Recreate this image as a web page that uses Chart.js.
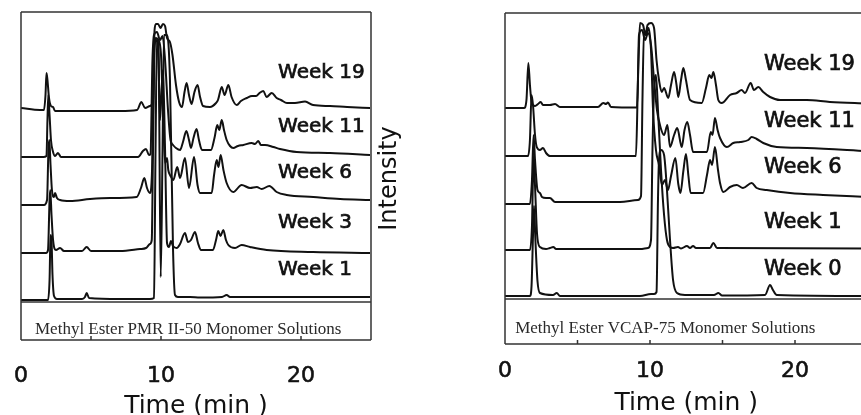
<!DOCTYPE html>
<html>
<head>
<meta charset="utf-8">
<script src="https://cdn.jsdelivr.net/npm/chart.js@4.4.1/dist/chart.umd.min.js"></script>
<style>
  html, body { margin: 0; padding: 0; background: #fff; overflow: hidden; width: 861px; height: 415px; }
  #pmr { position: absolute; left: 0; top: 0; }
  #vcap { position: absolute; left: 370px; top: 0; }
</style>
</head>
<body>
<canvas id="pmr" width="440" height="425"></canvas>
<canvas id="vcap" width="510" height="425"></canvas>
<script>
// tick values (min)
const timeTicks = [0, 10, 20];
const minorTicks = [5, 10, 15, 20];

// trace names, top to bottom
const pmrWeeks = ['Week 19', 'Week 11', 'Week 6', 'Week 3', 'Week 1'];
const vcapWeeks = ['Week 19', 'Week 11', 'Week 6', 'Week 1', 'Week 0'];

const pmrCaption = 'Methyl Ester PMR II-50 Monomer Solutions';
const vcapCaption = 'Methyl Ester VCAP-75 Monomer Solutions';

// PMR II-50 chromatograms: [time (min), stacked intensity]
const pmrWeek19 = [[0,192],[1.36,190],[1.64,190],[1.75,205],[1.82,227],[1.89,220],[2.0,202],[2.14,194],[2.29,193],[2.43,189],[4.2,189],[7.07,189],[8.29,190],[8.6,198],[8.86,192],[9.21,194],[9.43,200],[9.54,270],[9.64,276],[9.79,276],[9.96,272],[10.14,276],[10.29,274],[10.43,262],[10.64,258],[10.82,245],[11.07,215],[11.29,198],[11.5,193],[11.68,208],[11.83,217],[12.0,205],[12.18,196],[12.39,208],[12.61,215],[12.79,203],[13.0,194],[13.5,193],[13.93,197],[14.07,200],[14.34,213],[14.54,205],[14.81,215],[15.04,203],[15.41,195],[15.71,199],[16.12,202],[16.5,204],[16.79,204],[17.04,207],[17.31,209],[17.54,203],[17.91,207],[18.26,202],[18.57,200],[19.0,197],[19.57,197],[20.29,198.5],[20.86,195],[22.07,194],[23.29,193],[24.93,192]];
const pmrWeek11 = [[0,143],[1.6,143],[1.82,144],[1.89,180],[1.95,205],[2.04,185],[2.14,160],[2.29,148],[2.43,144],[2.64,147],[2.86,143],[5.64,143],[8.36,143],[8.71,149],[8.93,151],[9.14,145],[9.25,146],[9.39,240],[9.5,265],[9.71,268],[9.93,260],[10.11,264],[10.29,240],[10.5,190],[10.68,160],[10.86,155],[11.07,152],[11.36,150],[11.57,158],[11.81,169],[12.0,160],[12.14,152],[12.32,162],[12.54,171],[12.71,160],[12.93,150],[13.57,150],[13.82,162],[14.02,175],[14.16,170],[14.34,180],[14.5,170],[14.69,160],[14.93,154],[15.16,152],[15.5,154],[15.88,155],[16.48,157],[16.71,156],[16.95,159],[17.14,155],[17.43,155],[18.02,153],[18.5,151],[19.69,148],[22.07,147],[24.93,145]];
const pmrWeek6 = [[0,95],[1.64,95],[1.86,100],[1.96,150],[2.02,160],[2.11,135],[2.21,110],[2.36,103],[2.43,107],[2.57,102],[2.79,100],[3.5,99],[4.93,101],[6.36,102],[8.26,103],[8.57,112],[8.81,122],[9.0,112],[9.21,107],[9.36,130],[9.5,240],[9.64,262],[9.82,260],[10.0,245],[10.14,190],[10.29,137],[10.43,142],[10.52,130],[10.68,124],[10.88,120],[11.16,133],[11.36,122],[11.71,142],[12.0,112],[12.36,143],[12.61,115],[12.79,107],[13.62,107],[13.79,125],[13.98,140],[14.11,133],[14.26,145],[14.46,130],[14.69,117],[15.16,108],[15.76,115],[16.36,112],[16.84,113],[17.19,111],[17.74,114],[18.26,108],[18.98,105],[20.88,103],[22.79,101],[24.93,100]];
const pmrWeek3 = [[0,47],[1.79,47],[1.93,50],[2.04,100],[2.09,110],[2.18,85],[2.29,60],[2.5,50],[2.79,52],[3.07,49],[4.36,49],[4.69,53],[5.0,49],[7.07,49],[8.5,51],[8.93,52],[9.21,56],[9.34,60],[9.43,150],[9.54,255],[9.68,260],[9.82,240],[9.93,180],[10.04,210],[10.14,230],[10.29,150],[10.43,57],[10.57,53],[10.71,59],[10.86,54],[11.12,52],[11.36,56],[11.71,67],[11.93,58],[12.14,60],[12.43,68],[12.64,57],[12.86,50],[13.71,50],[13.93,60],[14.09,69],[14.25,64],[14.45,70],[14.64,60],[14.81,55],[15.29,52],[15.76,55],[16.36,53],[17.55,50],[20.86,48],[24.93,47]];
const pmrWeek1 = [[0,0],[1.93,0],[2.04,20],[2.11,65],[2.18,60],[2.25,25],[2.36,4],[2.57,1],[4.36,1],[4.57,3],[4.69,7],[4.86,2],[7.07,1],[9.21,1],[9.5,2],[9.61,150],[9.71,260],[9.82,255],[9.98,23],[10.11,150],[10.21,265],[10.43,265],[10.64,220],[10.86,50],[11.0,5],[11.21,3],[12.07,3],[12.79,2.5],[14.36,3],[14.69,5],[14.93,3],[17.79,3],[24.93,3]];

// VCAP-75 chromatograms: [time (min), stacked intensity]
const vcapWeek19 = [[0,188],[1.31,188],[1.48,196],[1.61,233],[1.72,211],[1.84,193],[2.07,190],[2.28,192],[2.46,194],[2.62,191],[3.1,191],[3.45,192],[3.79,189],[6.41,189],[6.78,193],[6.97,192],[7.1,193.5],[7.31,189],[9.1,188.5],[9.21,236],[9.31,273],[9.52,271],[9.69,261],[9.83,271],[10.07,273],[10.28,268],[10.45,236],[10.62,216],[10.81,204],[10.97,208],[11.26,198],[11.45,211],[11.66,224],[11.83,211],[11.95,199],[12.14,216],[12.3,228],[12.48,216],[12.76,196],[13.57,193],[13.86,208],[14.09,221],[14.24,218],[14.37,224],[14.55,211],[14.71,196],[14.94,193],[15.52,201],[15.98,203],[16.32,206],[16.55,203],[16.94,213],[17.17,206],[17.47,209],[17.81,204],[18.28,199],[18.97,196],[20.81,196],[22.41,194],[24.97,192.5]];
const vcapWeek11 = [[0,140],[1.59,140],[1.72,156],[1.83,201],[1.93,191],[2.07,161],[2.19,149],[2.41,146],[2.62,148],[2.83,143],[3.1,140],[9.03,140],[9.14,196],[9.24,261],[9.45,266],[9.66,256],[9.86,263],[10.07,251],[10.28,216],[10.48,186],[10.72,169],[10.97,161],[11.2,171],[11.38,149],[11.66,161],[11.88,168],[12.19,149],[12.38,166],[12.57,174],[12.76,161],[12.97,144],[13.93,144],[14.19,164],[14.31,161],[14.48,178],[14.66,166],[14.83,158],[15.3,149],[15.74,153],[16.21,154],[16.78,156],[17.01,159],[17.36,157],[17.81,153],[18.74,149],[20.81,148],[24.97,145]];
const vcapWeek6 = [[0,92],[1.72,92],[1.86,116],[1.97,161],[2.07,136],[2.24,106],[2.41,103],[2.55,99],[2.83,98],[3.1,98],[3.45,94],[3.79,94],[7.93,94],[9.17,96],[9.38,100],[9.48,196],[9.59,266],[9.72,261],[9.9,268],[10.07,246],[10.21,186],[10.41,146],[10.62,131],[10.83,111],[11.03,116],[11.24,106],[11.45,120],[11.75,138],[11.95,112],[12.1,103],[12.3,125],[12.48,142],[12.65,120],[12.8,103],[13.66,103],[13.93,121],[14.14,136],[14.28,131],[14.48,149],[14.69,126],[14.83,113],[15.06,104],[15.52,109],[15.98,111],[16.41,108],[17.01,113],[17.36,108],[18.05,106],[19.66,103],[21.93,101],[24.97,99]];
const vcapWeek1 = [[0,46],[1.72,46],[1.86,70],[1.97,140],[2.07,110],[2.21,62],[2.41,49],[2.83,47],[3.1,48],[3.33,49],[3.52,47],[9.31,47],[9.86,48],[10.07,56],[10.17,146],[10.28,206],[10.41,221],[10.55,186],[10.76,126],[10.97,81],[11.17,56],[11.38,49],[11.59,48],[11.93,49],[12.14,47.5],[12.55,50],[12.76,48],[12.97,50],[13.17,48],[14.14,48],[14.37,53],[14.62,48],[24.97,47.5]];
const vcapWeek0 = [[0,0],[1.72,0],[1.83,10],[1.93,60],[2.0,90],[2.1,55],[2.24,15],[2.41,3],[3.31,1],[3.57,3],[3.79,0],[9.31,0],[10.07,2],[10.28,2],[10.45,4],[10.55,96],[10.62,136],[10.76,146],[10.97,141],[11.17,106],[11.38,56],[11.59,16],[11.86,3],[12.41,1],[14.41,1],[14.72,3],[14.97,0.5],[17.93,1],[18.28,11],[18.48,6],[18.74,1],[24.97,0]];

const ink = '#111';

// frame, separator line, inner ticks, caption and week labels
const framePlugin = {
  id: 'frame',
  afterDatasetsDraw(chart, args, opts) {
    const { ctx, chartArea: a, scales: { x, y } } = chart;
    ctx.save();
    ctx.strokeStyle = '#333';
    ctx.lineWidth = 1.5;
    ctx.beginPath();
    ctx.moveTo(a.left, a.top); ctx.lineTo(a.left, a.bottom);
    ctx.moveTo(a.left, a.top); ctx.lineTo(a.right, a.top);
    ctx.moveTo(a.right, a.top); ctx.lineTo(a.right, a.bottom);
    ctx.moveTo(a.left, a.bottom); ctx.lineTo(a.right, a.bottom);
    const ys = y.getPixelForValue(opts.separator);
    ctx.moveTo(a.left, ys); ctx.lineTo(a.right, ys);
    minorTicks.forEach(t => {
      const px = x.getPixelForValue(t);
      ctx.moveTo(px, a.bottom); ctx.lineTo(px, a.bottom - 4);
    });
    ctx.stroke();

    ctx.font = '17px "Liberation Serif"';
    ctx.fillStyle = '#2a2a2a';
    ctx.textAlign = 'left';
    ctx.textBaseline = 'alphabetic';
    ctx.fillText(opts.caption, x.getPixelForValue(opts.captionAt[0]), y.getPixelForValue(opts.captionAt[1]));

    // week labels, a thin stroke gives the heavier scanned look
    ctx.font = opts.labelFont;
    ctx.fillStyle = ink;
    ctx.strokeStyle = ink;
    ctx.lineWidth = 0.7;
    opts.labels.forEach((txt, i) => {
      const px = x.getPixelForValue(opts.labelX);
      const py = y.getPixelForValue(opts.labelY[i]);
      ctx.fillText(txt, px, py);
      ctx.strokeText(txt, px, py);
    });
    ctx.restore();
  }
};

function makeChart(id, traces, cfg) {
  return new Chart(document.getElementById(id), {
    type: 'line',
    data: {
      datasets: traces.map((tr, i) => ({
        label: cfg.labels[i],
        data: tr.map(([t, v]) => ({ x: t, y: v })),
        borderColor: ink,
        borderWidth: 2,
        pointRadius: 0,
        cubicInterpolationMode: 'monotone',
        fill: false
      }))
    },
    options: {
      responsive: false,
      animation: false,
      devicePixelRatio: 1,
      layout: { padding: { left: cfg.padLeft, right: cfg.padRight, top: cfg.padTop, bottom: 0 } },
      plugins: {
        legend: { display: false },
        tooltip: { enabled: false },
        frame: {
          separator: cfg.separator,
          caption: cfg.caption,
          captionAt: cfg.captionAt,
          labels: cfg.labels,
          labelX: cfg.labelX,
          labelY: cfg.labelY,
          labelFont: cfg.labelFont
        }
      },
      scales: {
        x: {
          type: 'linear',
          min: 0,
          max: 25,
          afterBuildTicks: s => { s.ticks = timeTicks.map(v => ({ value: v })); },
          afterFit: s => {
            s.height = cfg.xAxisHeight;
            s.paddingLeft = 0;
            s.paddingRight = 0;
          },
          grid: { display: false },
          border: { display: false },
          ticks: {
            padding: cfg.tickPad,
            color: ink,
            textStrokeColor: ink,
            textStrokeWidth: 0.6,
            maxRotation: 0,
            autoSkip: false,
            font: { family: 'DejaVu Sans', size: 22, lineHeight: 1 }
          },
          title: {
            display: true,
            text: 'Time (min )',
            color: ink,
            font: { family: 'DejaVu Sans', size: 25, lineHeight: 1 },
            padding: { top: 0, bottom: cfg.titlePad }
          }
        },
        y: {
          type: 'linear',
          min: cfg.yMin,
          max: cfg.yMax,
          display: cfg.showY,
          afterFit: s => { s.width = cfg.yAxisWidth; },
          grid: { display: false },
          border: { display: false },
          ticks: { display: false },
          title: {
            display: true,
            text: 'Intensity',
            color: ink,
            font: { family: 'DejaVu Sans', size: 24, lineHeight: 1 },
            padding: { top: 8, bottom: 0 }
          }
        }
      }
    },
    plugins: [framePlugin]
  });
}

makeChart('pmr', [pmrWeek19, pmrWeek11, pmrWeek6, pmrWeek3, pmrWeek1], {
  labels: pmrWeeks,
  caption: pmrCaption,
  captionAt: [1.0, -33.5],
  labelX: 18.36,
  labelY: [222, 168.5, 122, 72, 25],
  labelFont: '20px "DejaVu Sans"',
  separator: -2,
  yMin: -40, yMax: 288,
  showY: false, yAxisWidth: 0,
  padLeft: 21, padRight: 69, padTop: 12,
  xAxisHeight: 85, tickPad: 17, titlePad: 6
});

makeChart('vcap', [vcapWeek19, vcapWeek11, vcapWeek6, vcapWeek1, vcapWeek0], {
  labels: vcapWeeks,
  caption: vcapCaption,
  captionAt: [0.7, -37],
  labelX: 17.86,
  labelY: [226, 169, 123, 68, 21],
  labelFont: '21px "DejaVu Sans"',
  separator: -3,
  yMin: -48, yMax: 283,
  showY: true, yAxisWidth: 135,
  padLeft: 0, padRight: 12.5, padTop: 13,
  xAxisHeight: 81, tickPad: 8.5, titlePad: 9.5
});
</script>
</body>
</html>
